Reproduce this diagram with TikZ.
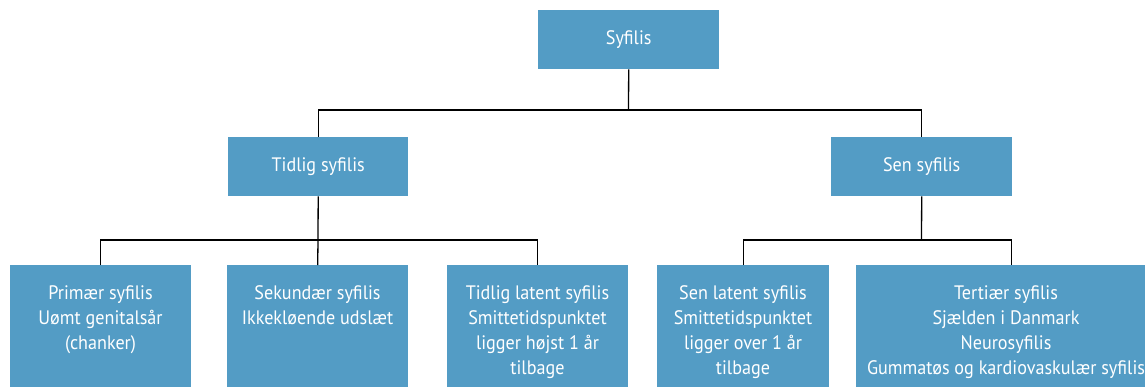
\documentclass[tikz,border=0pt]{standalone}
\usepackage{fontspec}
\setmainfont{PT Sans}[FakeStretch=0.93]
\definecolor{boxblue}{HTML}{539CC5}
\begin{document}
\begin{tikzpicture}[x=1pt,y=-1pt,
  box/.style={fill=boxblue, draw=none, inner sep=0pt, anchor=north west},
  txt/.style={text=white, align=center, inner sep=0pt, font=\fontsize{19.5}{25}\selectfont},
  conn/.style={draw=black, line width=1.3pt}]
\useasboundingbox (0,0) rectangle (1145,386);
\clip (0,0) rectangle (1145,386);
% top level
\node[box, txt, minimum width=181pt, minimum height=59pt, anchor=north west] (syf) at (538,10) {Syfilis};
% second level
\node[box, txt, minimum width=180pt, minimum height=59pt, anchor=north west] (tid) at (228,137) {Tidlig syfilis};
\node[box, txt, minimum width=181pt, minimum height=59pt, anchor=north west] (sen) at (831,137) {Sen syfilis};
% third level boxes
\node[box, minimum width=181pt, minimum height=140pt] (p1) at (10,265) {};
\node[box, minimum width=181pt, minimum height=140pt] (p2) at (227,265) {};
\node[box, minimum width=181pt, minimum height=140pt] (p3) at (447,265) {};
\node[box, minimum width=172pt, minimum height=140pt] (p4) at (657,265) {};
\node[box, minimum width=310pt, minimum height=140pt] (p5) at (856,265) {};
% third level texts
\node[txt, anchor=north] (p1t) at (100.5,285.5) {Primær syfilis\\Uømt genitalsår\\(chanker)};
\node[txt, anchor=north] (p2t) at (317.5,285.5) {Sekundær syfilis\\Ikkekløende udslæt};
\node[txt, anchor=north] (p3t) at (537.5,285.5) {Tidlig latent syfilis\\Smittetidspunktet\\ligger højst 1 år\\tilbage};
\node[txt, anchor=north] (p4t) at (743,285.5) {Sen latent syfilis\\Smittetidspunktet\\ligger over 1 år\\tilbage};
\node[txt, anchor=north] (p5t) at (1006,285.5) {Tertiær syfilis\\Sjælden i Danmark\\Neurosyfilis\\Gummatøs og kardiovaskulær syfilis};
% connectors
\coordinate (j0) at (628.5,110);
\coordinate (j1) at (318,240);
\coordinate (j2) at (921.5,240);
\draw[conn] (syf.south) -- (j0);
\draw[conn] (tid.north) |- (j0) -| (sen.north);
\draw[conn] (tid.south) -- (j1);
\draw[conn] (p1.north) |- (j1) -| (p3.north);
\draw[conn] (j1) -- (p2.north);
\draw[conn] (sen.south) -- (j2);
\draw[conn] (p4.north) |- (j2) -| (p5.north);
\end{tikzpicture}
\end{document}
